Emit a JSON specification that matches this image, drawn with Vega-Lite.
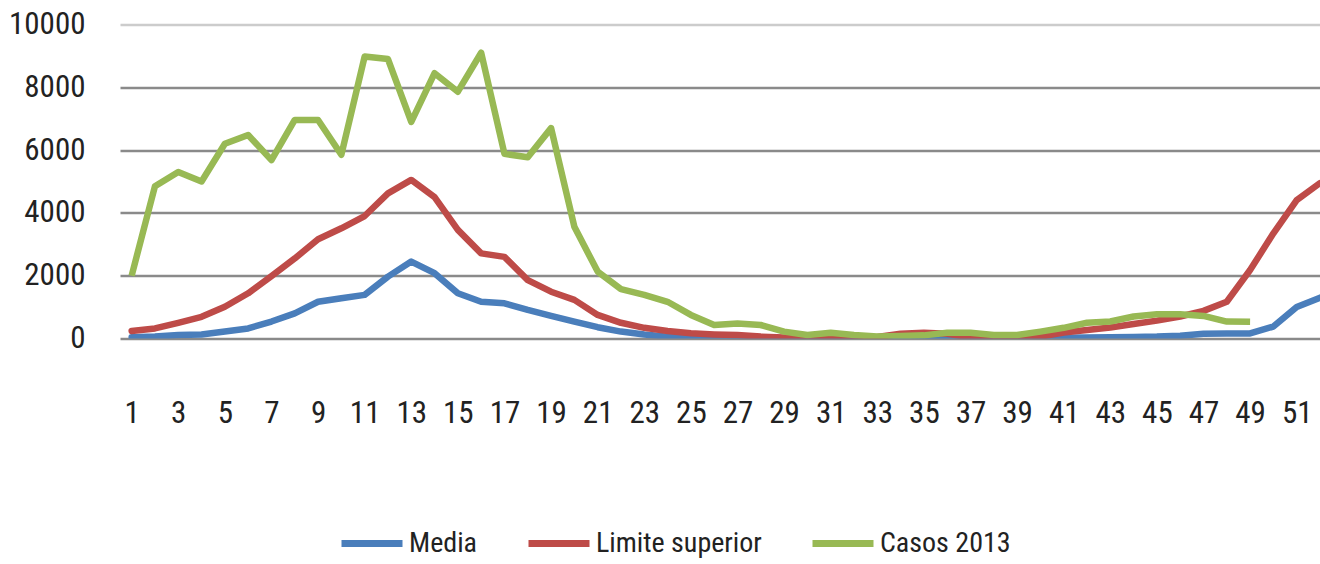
{
  "$schema": "https://vega.github.io/schema/vega-lite/v6.json",
  "autosize": "none",
  "padding": {"left": 120, "top": 24.5, "right": 0, "bottom": 225.5},
  "width": 1200,
  "height": 314,
  "background": "white",
  "config": {
    "view": {"stroke": null},
    "font": "Roboto Condensed, Liberation Sans"
  },
  "data": {"values": [
    {"week":1,"series":"Media","value":40},{"week":2,"series":"Media","value":60},{"week":3,"series":"Media","value":110},{"week":4,"series":"Media","value":130},{"week":5,"series":"Media","value":220},{"week":6,"series":"Media","value":320},{"week":7,"series":"Media","value":540},{"week":8,"series":"Media","value":800},{"week":9,"series":"Media","value":1170},{"week":10,"series":"Media","value":1280},{"week":11,"series":"Media","value":1390},{"week":12,"series":"Media","value":1970},{"week":13,"series":"Media","value":2450},{"week":14,"series":"Media","value":2080},{"week":15,"series":"Media","value":1440},{"week":16,"series":"Media","value":1170},{"week":17,"series":"Media","value":1120},{"week":18,"series":"Media","value":910},{"week":19,"series":"Media","value":720},{"week":20,"series":"Media","value":540},{"week":21,"series":"Media","value":360},{"week":22,"series":"Media","value":220},{"week":23,"series":"Media","value":130},{"week":24,"series":"Media","value":60},{"week":25,"series":"Media","value":20},{"week":26,"series":"Media","value":10},{"week":27,"series":"Media","value":5},{"week":28,"series":"Media","value":5},{"week":29,"series":"Media","value":0},{"week":30,"series":"Media","value":0},{"week":31,"series":"Media","value":0},{"week":32,"series":"Media","value":0},{"week":33,"series":"Media","value":0},{"week":34,"series":"Media","value":0},{"week":35,"series":"Media","value":0},{"week":36,"series":"Media","value":0},{"week":37,"series":"Media","value":0},{"week":38,"series":"Media","value":0},{"week":39,"series":"Media","value":5},{"week":40,"series":"Media","value":10},{"week":41,"series":"Media","value":20},{"week":42,"series":"Media","value":30},{"week":43,"series":"Media","value":40},{"week":44,"series":"Media","value":50},{"week":45,"series":"Media","value":60},{"week":46,"series":"Media","value":90},{"week":47,"series":"Media","value":150},{"week":48,"series":"Media","value":160},{"week":49,"series":"Media","value":160},{"week":50,"series":"Media","value":380},{"week":51,"series":"Media","value":1000},{"week":52,"series":"Media","value":1300},
    {"week":1,"series":"Limite superior","value":240},{"week":2,"series":"Limite superior","value":320},{"week":3,"series":"Limite superior","value":500},{"week":4,"series":"Limite superior","value":690},{"week":5,"series":"Limite superior","value":1010},{"week":6,"series":"Limite superior","value":1440},{"week":7,"series":"Limite superior","value":1990},{"week":8,"series":"Limite superior","value":2550},{"week":9,"series":"Limite superior","value":3160},{"week":10,"series":"Limite superior","value":3510},{"week":11,"series":"Limite superior","value":3900},{"week":12,"series":"Limite superior","value":4620},{"week":13,"series":"Limite superior","value":5050},{"week":14,"series":"Limite superior","value":4500},{"week":15,"series":"Limite superior","value":3460},{"week":16,"series":"Limite superior","value":2710},{"week":17,"series":"Limite superior","value":2600},{"week":18,"series":"Limite superior","value":1860},{"week":19,"series":"Limite superior","value":1490},{"week":20,"series":"Limite superior","value":1230},{"week":21,"series":"Limite superior","value":750},{"week":22,"series":"Limite superior","value":500},{"week":23,"series":"Limite superior","value":340},{"week":24,"series":"Limite superior","value":240},{"week":25,"series":"Limite superior","value":165},{"week":26,"series":"Limite superior","value":130},{"week":27,"series":"Limite superior","value":110},{"week":28,"series":"Limite superior","value":60},{"week":29,"series":"Limite superior","value":30},{"week":30,"series":"Limite superior","value":10},{"week":31,"series":"Limite superior","value":10},{"week":32,"series":"Limite superior","value":20},{"week":33,"series":"Limite superior","value":50},{"week":34,"series":"Limite superior","value":150},{"week":35,"series":"Limite superior","value":180},{"week":36,"series":"Limite superior","value":150},{"week":37,"series":"Limite superior","value":40},{"week":38,"series":"Limite superior","value":30},{"week":39,"series":"Limite superior","value":40},{"week":40,"series":"Limite superior","value":60},{"week":41,"series":"Limite superior","value":190},{"week":42,"series":"Limite superior","value":270},{"week":43,"series":"Limite superior","value":350},{"week":44,"series":"Limite superior","value":460},{"week":45,"series":"Limite superior","value":570},{"week":46,"series":"Limite superior","value":700},{"week":47,"series":"Limite superior","value":880},{"week":48,"series":"Limite superior","value":1170},{"week":49,"series":"Limite superior","value":2180},{"week":50,"series":"Limite superior","value":3350},{"week":51,"series":"Limite superior","value":4410},{"week":52,"series":"Limite superior","value":4950},
    {"week":1,"series":"Casos 2013","value":2000},{"week":2,"series":"Casos 2013","value":4850},{"week":3,"series":"Casos 2013","value":5300},{"week":4,"series":"Casos 2013","value":5000},{"week":5,"series":"Casos 2013","value":6200},{"week":6,"series":"Casos 2013","value":6480},{"week":7,"series":"Casos 2013","value":5680},{"week":8,"series":"Casos 2013","value":6960},{"week":9,"series":"Casos 2013","value":6960},{"week":10,"series":"Casos 2013","value":5850},{"week":11,"series":"Casos 2013","value":8980},{"week":12,"series":"Casos 2013","value":8900},{"week":13,"series":"Casos 2013","value":6900},{"week":14,"series":"Casos 2013","value":8450},{"week":15,"series":"Casos 2013","value":7860},{"week":16,"series":"Casos 2013","value":9100},{"week":17,"series":"Casos 2013","value":5880},{"week":18,"series":"Casos 2013","value":5770},{"week":19,"series":"Casos 2013","value":6700},{"week":20,"series":"Casos 2013","value":3560},{"week":21,"series":"Casos 2013","value":2130},{"week":22,"series":"Casos 2013","value":1570},{"week":23,"series":"Casos 2013","value":1390},{"week":24,"series":"Casos 2013","value":1170},{"week":25,"series":"Casos 2013","value":750},{"week":26,"series":"Casos 2013","value":430},{"week":27,"series":"Casos 2013","value":480},{"week":28,"series":"Casos 2013","value":430},{"week":29,"series":"Casos 2013","value":220},{"week":30,"series":"Casos 2013","value":110},{"week":31,"series":"Casos 2013","value":180},{"week":32,"series":"Casos 2013","value":110},{"week":33,"series":"Casos 2013","value":60},{"week":34,"series":"Casos 2013","value":80},{"week":35,"series":"Casos 2013","value":100},{"week":36,"series":"Casos 2013","value":180},{"week":37,"series":"Casos 2013","value":180},{"week":38,"series":"Casos 2013","value":110},{"week":39,"series":"Casos 2013","value":110},{"week":40,"series":"Casos 2013","value":220},{"week":41,"series":"Casos 2013","value":340},{"week":42,"series":"Casos 2013","value":500},{"week":43,"series":"Casos 2013","value":540},{"week":44,"series":"Casos 2013","value":700},{"week":45,"series":"Casos 2013","value":770},{"week":46,"series":"Casos 2013","value":770},{"week":47,"series":"Casos 2013","value":720},{"week":48,"series":"Casos 2013","value":540},{"week":49,"series":"Casos 2013","value":530}
  ]},
  "encoding": {
    "x": {"field": "week", "type": "quantitative",
      "scale": {"domain": [0.5, 52], "nice": false, "zero": false},
      "axis": {"title": null, "values": [1,3,5,7,9,11,13,15,17,19,21,23,25,27,29,31,33,35,37,39,41,43,45,47,49,51],
        "grid": false, "ticks": false, "domain": false, "labelFontSize": 31, "labelColor": "#222222",
        "labelPadding": 60, "labelOverlap": false, "labelFlush": false}},
    "y": {"field": "value", "type": "quantitative",
      "scale": {"domain": [0, 10000], "nice": false},
      "axis": {"title": null, "values": [0,2000,4000,6000,8000,10000], "format": "d",
        "grid": true, "gridColor": {"condition": {"test": "datum.value === 10000", "value": "#cccccc"}, "value": "#8a8a8a"},
        "gridWidth": 2.5, "ticks": false, "domain": false, "labelFontSize": 31, "labelColor": "#222222", "labelPadding": 35}},
    "color": {"field": "series", "type": "nominal",
      "scale": {"domain": ["Media", "Limite superior", "Casos 2013"], "range": ["#4A7EBB", "#BE4B48", "#98B954"]},
      "legend": {"title": null, "orient": "none", "legendX": 218, "legendY": 485, "direction": "horizontal",
        "symbolType": "stroke", "symbolSize": 3721, "symbolStrokeWidth": 7, "labelFontSize": 28, "labelColor": "#222222",
        "labelOffset": 3, "columnPadding": 36, "padding": 0, "labelLimit": 400}}
  },
  "layer": [
    {"transform": [{"filter": "datum.series === 'Media'"}], "mark": {"type": "line", "strokeWidth": 6.5, "strokeJoin": "round", "strokeCap": "round", "clip": true}},
    {"transform": [{"filter": "datum.series === 'Limite superior'"}], "mark": {"type": "line", "strokeWidth": 6.5, "strokeJoin": "round", "strokeCap": "round", "clip": true}},
    {"transform": [{"filter": "datum.series === 'Casos 2013'"}], "mark": {"type": "line", "strokeWidth": 6.5, "strokeJoin": "round", "strokeCap": "butt", "clip": true}}
  ]
}
